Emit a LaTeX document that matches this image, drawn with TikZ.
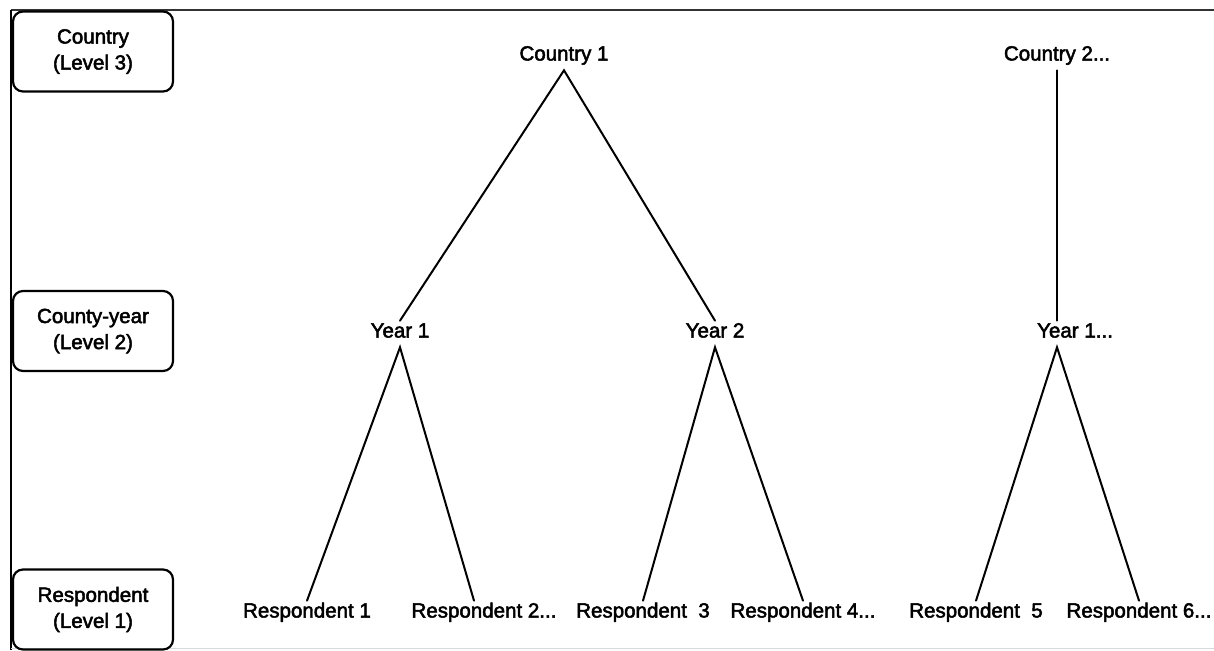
\documentclass[tikz,border=0pt]{standalone}
\usepackage{fontspec}
\setmainfont{Liberation Sans}
\newfontfamily\heavyfont[FakeBold=2.4]{Liberation Sans}
\usepackage{tikz}
\usetikzlibrary{calc}
\tikzset{
  lvlbox/.style = {draw,line width=0.055cm,rounded corners=0.25cm,
                   minimum width=4cm,minimum height=2cm,align=center,
                   inner sep=0pt},
  lbl/.style    = {inner xsep=0pt,inner ysep=0.15cm,text height=0.75em,
                   text depth=0.25em},
  link/.style   = {line width=0.05cm,line cap=round},
  frame/.style  = {line width=0.05cm},
}

\begin{document}
\begin{tikzpicture}[x=0.025cm,y=-0.025cm,
    font=\heavyfont\fontsize{14.6pt}{18.5pt}\selectfont]
  \useasboundingbox (0,0) rectangle (1214,650);
  % Frame
  \coordinate (ftl) at (11,10);
  \coordinate (ftr) at (1214,10);
  \coordinate (fbl) at (11,650);
  \draw[frame,draw=black!80] (ftl) -- (ftr);
  \draw[frame] (ftl) -- (fbl);
  \draw[line width=0.02cm,draw=black!15] (11,648) -- (1214,648);
  % Level boxes
  \node[lvlbox] (lvl3) at (93,51.5) {Country\\(Level 3)};
  \node[lvlbox] (lvl2) at (93,331) {County-year\\(Level 2)};
  \node[lvlbox] (lvl1) at (93,609.5) {Respondent\\(Level 1)};
  % Countries
  \node[lbl] (c1) at (564,57) {Country 1};
  \node[lbl] (c2) at (1057,57) {Country 2...};
  % Country-years
  \node[lbl] (y1) at (400,334) {Year 1};
  \node[lbl] (y2) at (715,334) {Year 2};
  \node[lbl] (y3) at (1075,334) {Year 1...};
  % Respondents
  \node[lbl] (r1) at (307,614) {Respondent 1};
  \node[lbl] (r2) at (484,614) {Respondent 2...};
  \node[lbl] (r3) at (643,614) {Respondent\ \ 3};
  \node[lbl] (r4) at (803,614) {Respondent 4...};
  \node[lbl] (r5) at (976,614) {Respondent\ \ 5};
  \node[lbl] (r6) at (1139,614) {Respondent 6...};
  % Branches
  \draw[link] (y1.north) -- (c1.south) -- (y2.north);
  \draw[link] (c2.south) -- (c2 |- y3.north);
  \draw[link] (r1.north) -- (y1.south) -- ($(r2.north)+(-10,0)$);
  \draw[link] (r3.north) -- (y2.south) -- (r4.north);
  \draw[link] (r5.north) -- (c2 |- y3.south) -- (r6.north);
\end{tikzpicture}
\end{document}
